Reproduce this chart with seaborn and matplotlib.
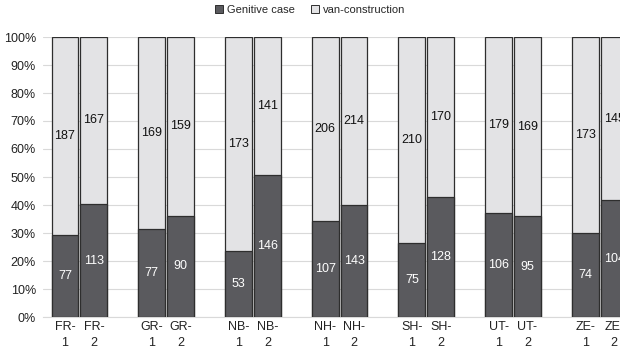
import numpy as np
import pandas as pd
import seaborn as sns
import matplotlib.pyplot as plt
from matplotlib.patches import Patch

regions = ["FR", "GR", "NB", "NH", "SH", "UT", "ZE"]
periods = ["1", "2"]
genitive = [77, 113, 77, 90, 53, 146, 107, 143, 75, 128, 106, 95, 74, 104]
van = [187, 167, 169, 159, 173, 141, 206, 214, 210, 170, 179, 169, 173, 145]
y_ticks = [0, 10, 20, 30, 40, 50, 60, 70, 80, 90, 100]

sns.set_theme(style="white")
plt.rcParams["font.family"] = ["Liberation Sans", "DejaVu Sans"]

dark = "#5a5a5e"
light = "#e3e3e5"
edge = "#2e2e2e"

labels, pos = [], []
for gi, r in enumerate(regions):
    for pi, p in enumerate(periods):
        labels.append(f"{r}-\n{p}")
        pos.append(gi * 3 + pi)

gen = np.array(genitive, float)
vn = np.array(van, float)
tot = gen + vn
df = pd.DataFrame({
    "pos": pos,
    "gen_pct": gen / tot * 100,
    "total": np.full(len(pos), 100.0),
})

fig = plt.figure(figsize=(6.2, 3.57), dpi=100)
ax = fig.add_axes([43 / 620, 40 / 357, 1 - 43 / 620, (317 - 37) / 357])

sns.barplot(data=df, x="pos", y="total", native_scale=True, width=0.93,
            color=light, edgecolor=edge, linewidth=0.9, saturation=1, ax=ax, zorder=2)
sns.barplot(data=df, x="pos", y="gen_pct", native_scale=True, width=0.93,
            color=dark, edgecolor=edge, linewidth=0.9, saturation=1, ax=ax, zorder=3)

fs = 9
for x, g, v, gp in zip(pos, genitive, van, df["gen_pct"]):
    ax.text(x, gp / 2, str(g), ha="center", va="center", color="white", fontsize=fs, zorder=5)
    ax.text(x, gp + (100 - gp) / 2, str(v), ha="center", va="center", color="#111111",
            fontsize=fs, zorder=5)

ax.set_xlim(-0.76, 19.2)
ax.set_ylim(0, 100)
ax.set_yticks(y_ticks)
ax.set_yticklabels([f"{t}%" for t in y_ticks], fontsize=fs, color="#222222")
ax.set_xticks(pos)
ax.set_xticklabels(labels, fontsize=fs, color="#222222", linespacing=1.45)
ax.tick_params(axis="x", length=0, pad=3)
ax.tick_params(axis="y", length=0, pad=5)
ax.set_xlabel("")
ax.set_ylabel("")
ax.yaxis.grid(True, color="#d9d9d9", linewidth=0.8, zorder=0)
ax.set_axisbelow(True)
for s in ["top", "right", "left"]:
    ax.spines[s].set_visible(False)
ax.spines["bottom"].set_color("#d9d9d9")
ax.spines["bottom"].set_linewidth(0.8)

handles = [Patch(facecolor=dark, edgecolor=edge, linewidth=0.7, label="Genitive case"),
           Patch(facecolor=light, edgecolor=edge, linewidth=0.7, label="van-construction")]
fig.legend(handles=handles, loc="center", bbox_to_anchor=(0.5, 1 - 10 / 357), ncol=2,
           frameon=False, fontsize=8, handlelength=0.75, handleheight=0.75,
           handletextpad=0.3, columnspacing=1.5)

fig.savefig("out.png", dpi=100)
